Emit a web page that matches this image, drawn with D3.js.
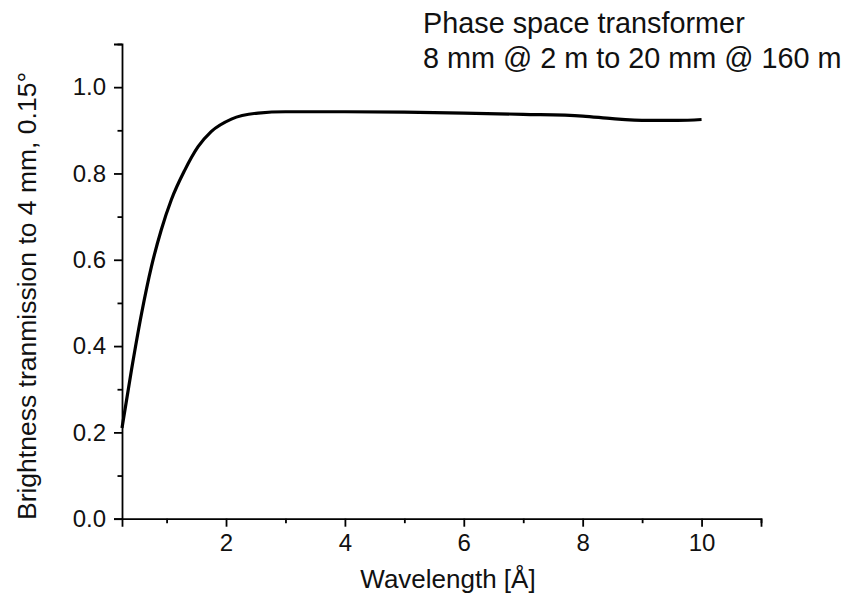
<!DOCTYPE html>
<html>
<head>
<meta charset="utf-8">
<script src="https://cdn.jsdelivr.net/npm/d3@7"></script>
<style>
  html, body { margin: 0; padding: 0; background: #fff; }
  svg { display: block; font-family: "Liberation Sans", Arial, Helvetica, sans-serif; }
</style>
</head>
<body>
<div id="chart"></div>
<script>
// данные
const wavelength = [0.25, 0.41, 0.58, 0.745, 0.91, 1.08, 1.3, 1.53, 1.75, 2.09, 2.54, 3.0, 3.5, 4.0, 5.0, 6.0, 7.0, 8.0, 8.5, 9.1, 9.6, 10.0];
const transmission = [0.21, 0.345, 0.476, 0.584, 0.669, 0.739, 0.806, 0.862, 0.897, 0.926, 0.940, 0.943, 0.943, 0.943, 0.942, 0.940, 0.937, 0.933, 0.927, 0.923, 0.923, 0.925];

const xMajor = [2, 4, 6, 8, 10];
const xMinor = [1, 3, 5, 7, 9, 11];
const yMajor = [0, 0.2, 0.4, 0.6, 0.8, 1.0];
const yMinor = [0.1, 0.3, 0.5, 0.7, 0.9, 1.1];

const titleLines = ['Phase space transformer', '8 mm @ 2 m to 20 mm @ 160 m'];
const xTitle = 'Wavelength [Å]';
const yTitle = 'Brightness tranmission to 4 mm, 0.15°';

// геометрия
const width = 848, height = 598;
const plot = { left: 122, right: 761, top: 44, bottom: 518.7 };

const svg = d3.select('#chart').append('svg')
    .attr('width', width)
    .attr('height', height);

const x = d3.scaleLinear().domain([0.25, 11]).range([plot.left, plot.right]);
const y = d3.scaleLinear().domain([0, 1.1]).range([plot.bottom, plot.top]);

// ось X
const gx = svg.append('g').attr('transform', `translate(0,${plot.bottom})`);
gx.call(d3.axisBottom(x).tickValues(xMajor).tickSize(8).tickPadding(7).tickFormat(d3.format('d')));
gx.append('g').call(d3.axisBottom(x).tickValues(xMinor).tickSize(4.5).tickFormat(''))
    .select('.domain').remove();

// ось Y
const gy = svg.append('g').attr('transform', `translate(${plot.left},0)`);
gy.call(d3.axisLeft(y).tickValues(yMajor).tickSize(8).tickPadding(8).tickFormat(d3.format('.1f')));
gy.append('g').call(d3.axisLeft(y).tickValues(yMinor).tickSize(4.5).tickFormat(''))
    .select('.domain').remove();

svg.selectAll('.domain').attr('stroke', '#000').attr('stroke-width', 1.8);
svg.selectAll('.tick line').attr('stroke', '#000').attr('stroke-width', 1.8);
svg.selectAll('.tick text').attr('fill', '#111').attr('font-size', 24)
    .attr('font-family', '"Liberation Sans", Arial, sans-serif');

// кривая
const line = d3.line()
    .x((d, i) => x(wavelength[i]))
    .y(d => y(d))
    .curve(d3.curveMonotoneX);

svg.append('path')
    .datum(transmission)
    .attr('fill', 'none')
    .attr('stroke', '#000')
    .attr('stroke-width', 3.2)
    .attr('stroke-linejoin', 'round')
    .attr('d', line);

// подписи осей
svg.append('text')
    .attr('x', 448)
    .attr('y', 588)
    .attr('text-anchor', 'middle')
    .attr('font-size', 26)
    .attr('fill', '#111')
    .text(xTitle);

svg.append('text')
    .attr('transform', `translate(36,296) rotate(-90)`)
    .attr('text-anchor', 'middle')
    .attr('font-size', 26.5)
    .attr('fill', '#111')
    .text(yTitle);

// заголовок
const title = svg.append('text')
    .attr('x', 423)
    .attr('font-size', 28.8)
    .attr('fill', '#111');
titleLines.forEach((t, i) => {
    title.append('tspan').attr('x', 423).attr('y', 33 + i * 35).text(t);
});
</script>
</body>
</html>
